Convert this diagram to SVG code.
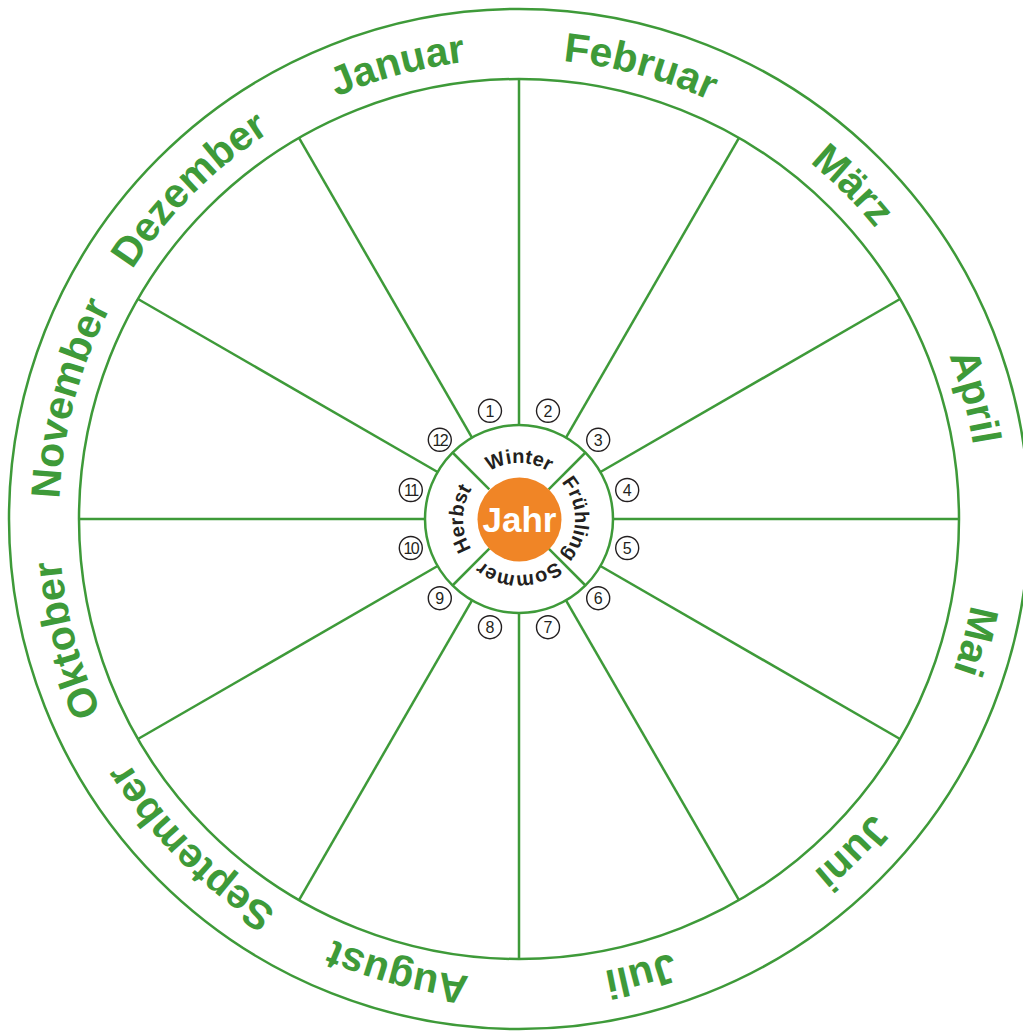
<svg xmlns="http://www.w3.org/2000/svg" xmlns:xlink="http://www.w3.org/1999/xlink" width="1023" height="1031" viewBox="0 0 1023 1031">
<style>
.g{fill:none;stroke:#3e9a39;stroke-width:2.5}
.m{font-family:"Liberation Sans",Arial,sans-serif;font-weight:bold;font-size:41px;fill:#3e9a39}
.s{font-family:"Liberation Sans",Arial,sans-serif;font-weight:bold;font-size:20px;fill:#231f20}
.nc{fill:#fff;stroke:#231f20;stroke-width:1.4}
.nt{font-family:"Liberation Sans",Arial,sans-serif;font-size:16px;fill:#231f20;text-anchor:middle}
</style>
<defs>
<path id="mp" d="M519,59 A460,460 0 1 1 519,979 A460,460 0 1 1 519,59"/>
<path id="sp" d="M479.4,558.6 A56,56 0 1 1 558.6,479.4 A56,56 0 1 1 479.4,558.6"/>
</defs>
<rect width="1023" height="1031" fill="#fff"/>
<g id="rings">
<circle class="g" cx="519" cy="519" r="510"/>
<circle class="g" cx="519" cy="519" r="440"/>
<circle class="g" cx="519" cy="519" r="94"/>
</g>
<g id="connectors" class="g">
<line x1="519" y1="425" x2="519" y2="79"/>
<line x1="566" y1="437.59" x2="739" y2="137.95"/>
<line x1="600.41" y1="472" x2="900.05" y2="299"/>
<line x1="613" y1="519" x2="959" y2="519"/>
<line x1="600.41" y1="566" x2="900.05" y2="739"/>
<line x1="566" y1="600.41" x2="739" y2="900.05"/>
<line x1="519" y1="613" x2="519" y2="959"/>
<line x1="472" y1="600.41" x2="299" y2="900.05"/>
<line x1="437.59" y1="566" x2="137.95" y2="739"/>
<line x1="425" y1="519" x2="79" y2="519"/>
<line x1="437.59" y1="472" x2="137.95" y2="299"/>
<line x1="472" y1="437.59" x2="299" y2="137.95"/>
<line x1="548.7" y1="489.3" x2="585.5" y2="452.5"/>
<line x1="548.7" y1="548.7" x2="585.5" y2="585.5"/>
<line x1="489.3" y1="548.7" x2="452.5" y2="585.5"/>
<line x1="489.3" y1="489.3" x2="452.5" y2="452.5"/>
</g>
<g id="months" class="m" text-anchor="middle">
<text><textPath xlink:href="#mp" href="#mp" startOffset="95.833%">Januar</textPath></text>
<text><textPath xlink:href="#mp" href="#mp" startOffset="4.167%">Februar</textPath></text>
<text><textPath xlink:href="#mp" href="#mp" startOffset="12.5%">März</textPath></text>
<text><textPath xlink:href="#mp" href="#mp" startOffset="20.833%">April</textPath></text>
<text><textPath xlink:href="#mp" href="#mp" startOffset="29.167%">Mai</textPath></text>
<text><textPath xlink:href="#mp" href="#mp" startOffset="37.5%">Juni</textPath></text>
<text><textPath xlink:href="#mp" href="#mp" startOffset="45.833%">Juli</textPath></text>
<text><textPath xlink:href="#mp" href="#mp" startOffset="54.167%">August</textPath></text>
<text><textPath xlink:href="#mp" href="#mp" startOffset="62.5%">September</textPath></text>
<text><textPath xlink:href="#mp" href="#mp" startOffset="70.833%">Oktober</textPath></text>
<text><textPath xlink:href="#mp" href="#mp" startOffset="79.167%">November</textPath></text>
<text><textPath xlink:href="#mp" href="#mp" startOffset="87.5%">Dezember</textPath></text>
</g>
<g id="seasons" class="s" text-anchor="middle">
<text><textPath xlink:href="#sp" href="#sp" startOffset="12.5%">Herbst</textPath></text>
<text><textPath xlink:href="#sp" href="#sp" startOffset="37.5%">Winter</textPath></text>
<text><textPath xlink:href="#sp" href="#sp" startOffset="62.5%">Frühling</textPath></text>
<text><textPath xlink:href="#sp" href="#sp" startOffset="87.5%">Sommer</textPath></text>
</g>
<g id="jahr">
<circle cx="519.5" cy="519.5" r="42" fill="#f08526"/>
<text x="519.5" y="532" text-anchor="middle" font-family="Liberation Sans, Arial, sans-serif" font-weight="bold" font-size="35" fill="#fff">Jahr</text>
</g>
<g id="numbers">
<g id="n1"><circle class="nc" cx="490" cy="410.8" r="11.5"/><text class="nt" x="490" y="416.5">1</text></g>
<g id="n2"><circle class="nc" cx="548" cy="410.8" r="11.5"/><text class="nt" x="548" y="416.5">2</text></g>
<g id="n3"><circle class="nc" cx="598.2" cy="439.8" r="11.5"/><text class="nt" x="598.2" y="445.5">3</text></g>
<g id="n4"><circle class="nc" cx="627.2" cy="490" r="11.5"/><text class="nt" x="627.2" y="495.7">4</text></g>
<g id="n5"><circle class="nc" cx="627.2" cy="548" r="11.5"/><text class="nt" x="627.2" y="553.7">5</text></g>
<g id="n6"><circle class="nc" cx="598.2" cy="598.2" r="11.5"/><text class="nt" x="598.2" y="603.9">6</text></g>
<g id="n7"><circle class="nc" cx="548" cy="627.2" r="11.5"/><text class="nt" x="548" y="632.9">7</text></g>
<g id="n8"><circle class="nc" cx="490" cy="627.2" r="11.5"/><text class="nt" x="490" y="632.9">8</text></g>
<g id="n9"><circle class="nc" cx="439.8" cy="598.2" r="11.5"/><text class="nt" x="439.8" y="603.9">9</text></g>
<g id="n10"><circle class="nc" cx="410.8" cy="548" r="11.5"/><text class="nt" x="410.8" y="553.7" letter-spacing="-1.5">10</text></g>
<g id="n11"><circle class="nc" cx="410.8" cy="490" r="11.5"/><text class="nt" x="410.8" y="495.7" letter-spacing="-1.5">11</text></g>
<g id="n12"><circle class="nc" cx="439.8" cy="439.8" r="11.5"/><text class="nt" x="439.8" y="445.5" letter-spacing="-1.5">12</text></g>
</g>
</svg>
